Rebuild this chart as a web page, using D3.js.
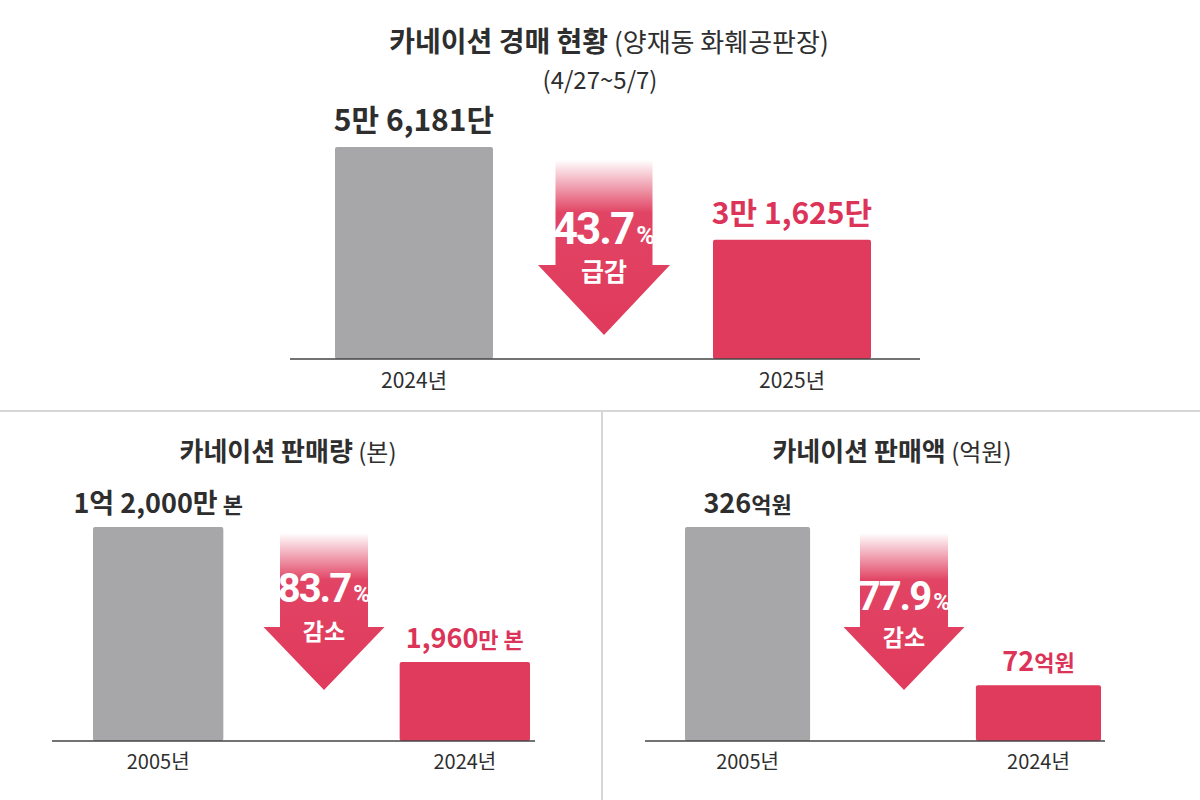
<!DOCTYPE html>
<html>
<head>
<meta charset="utf-8">
<script src="https://cdn.jsdelivr.net/npm/d3@7"></script>
<style>
  body { margin: 0; background: #fff; }
  svg text { font-family: "Noto Sans CJK KR", "Noto Sans", sans-serif; }
</style>
</head>
<body>
<div id="chart"></div>
<script>
// width and height
var w = 1200;
var h = 800;

var red = "#e03a5c";
var redText = "#dc3358";
var gray = "#a7a7a9";
var dark = "#2e2e2e";

// auction data (top panel)
var auctionYears = ["2024년", "2025년"];
var auctionValues = [56181, 31625];
var auctionLabels = [["5만 6,181", "단"], ["3만 1,625", "단"]];
var auctionDrop = ["43.7", "급감"];

// sales volume data (bottom left)
var volumeYears = ["2005년", "2024년"];
var volumeValues = [12000, 1960]; // 만 본
var volumeLabels = [["1억 2,000만", " 본"], ["1,960", "만 본"]];
var volumeDrop = ["83.7", "감소"];

// sales amount data (bottom right)
var amountYears = ["2005년", "2024년"];
var amountValues = [326, 72]; // 억원
var amountLabels = [["326", "억원"], ["72", "억원"]];
var amountDrop = ["77.9", "감소"];

var svg = d3.select("#chart").append("svg")
  .attr("width", w)
  .attr("height", h);

svg.append("rect").attr("width", w).attr("height", h).attr("fill", "#fff");

var defs = svg.append("defs");
var grad = defs.append("linearGradient")
  .attr("id", "arrowFade")
  .attr("x1", 0).attr("y1", 0).attr("x2", 0).attr("y2", 1);
grad.append("stop").attr("offset", "0%").attr("stop-color", red).attr("stop-opacity", 0);
grad.append("stop").attr("offset", "30%").attr("stop-color", red).attr("stop-opacity", 0.95);
grad.append("stop").attr("offset", "100%").attr("stop-color", red).attr("stop-opacity", 1);

// panel dividers
svg.append("line")
  .attr("x1", 0).attr("x2", w).attr("y1", 411).attr("y2", 411)
  .attr("stroke", "#d6d6d6").attr("stroke-width", 2);
svg.append("line")
  .attr("x1", 602).attr("x2", 602).attr("y1", 411).attr("y2", h)
  .attr("stroke", "#d6d6d6").attr("stroke-width", 2);

// draws one bar panel
function drawPanel(opt) {
  var g = svg.append("g");

  var xScale = d3.scaleBand()
    .domain(opt.years)
    .range(opt.bandRange)
    .paddingInner(opt.padInner)
    .paddingOuter(0);

  var yScale = d3.scalePow()
    .exponent(opt.exponent)
    .domain([0, d3.max(opt.values)])
    .range([opt.baseY, opt.topY]);

  var data = opt.years.map(function(y, i) {
    return { year: y, value: opt.values[i], label: opt.labels[i], i: i };
  });

  g.selectAll(".bar")
    .data(data)
    .enter()
    .append("rect")
    .attr("class", "bar")
    .attr("x", function(d) { return xScale(d.year); })
    .attr("y", function(d) { return yScale(d.value); })
    .attr("width", xScale.bandwidth())
    .attr("height", function(d) { return opt.baseY - yScale(d.value); })
    .attr("rx", 2)
    .attr("fill", function(d) { return d.i === 0 ? gray : red; });

  // value labels
  var lbl = g.selectAll(".bar-label")
    .data(data)
    .enter()
    .append("text")
    .attr("class", "bar-label")
    .attr("x", function(d) { return xScale(d.year) + xScale.bandwidth() / 2; })
    .attr("y", function(d) { return yScale(d.value) - opt.labelGap; })
    .attr("text-anchor", "middle")
    .attr("font-weight", 700)
    .attr("fill", function(d) { return d.i === 0 ? dark : redText; });
  lbl.append("tspan")
    .attr("font-size", opt.labelSize + "px")
    .text(function(d) { return d.label[0]; });
  lbl.append("tspan")
    .attr("font-size", opt.unitSize + "px")
    .text(function(d) { return d.label[1]; });

  // x axis
  var xAxis = d3.axisBottom(xScale).tickSize(0).tickPadding(opt.tickPad);
  var ax = g.append("g")
    .attr("transform", "translate(0," + opt.baseY + ")")
    .call(xAxis);
  ax.select(".domain").remove();
  ax.selectAll("text")
    .attr("font-size", opt.tickSize + "px")
    .attr("fill", dark)
    .style("font-family", "'Noto Sans CJK KR', sans-serif");

  g.append("line")
    .attr("x1", opt.lineRange[0]).attr("x2", opt.lineRange[1])
    .attr("y1", opt.baseY).attr("y2", opt.baseY)
    .attr("stroke", "#444").attr("stroke-width", 1.5);

  // down arrow
  var a = opt.arrow;
  var pts = [
    [a.cx - a.shaft / 2, a.top],
    [a.cx + a.shaft / 2, a.top],
    [a.cx + a.shaft / 2, a.neck],
    [a.cx + a.head / 2, a.neck],
    [a.cx, a.tip],
    [a.cx - a.head / 2, a.neck],
    [a.cx - a.shaft / 2, a.neck]
  ];
  g.append("path")
    .attr("d", d3.line()(pts) + "Z")
    .attr("fill", "url(#arrowFade)");

  var pct = g.append("text")
    .attr("x", a.cx)
    .attr("y", a.pctY)
    .attr("text-anchor", "middle")
    .attr("fill", "#fff")
    .attr("font-weight", 700)
    .style("font-family", "Roboto, sans-serif");
  pct.append("tspan").attr("font-size", a.pctSize + "px").attr("letter-spacing", "-2px").text(opt.drop[0]);
  pct.append("tspan").attr("font-size", (a.pctSize * 0.58) + "px").attr("dx", 3).text("%");

  g.append("text")
    .attr("x", a.cx)
    .attr("y", a.wordY)
    .attr("text-anchor", "middle")
    .attr("fill", "#fff")
    .attr("font-weight", 700)
    .attr("font-size", a.wordSize + "px")
    .text(opt.drop[1]);

  // title
  var t = g.append("text")
    .attr("x", opt.titleX)
    .attr("y", opt.titleY)
    .attr("text-anchor", "middle")
    .attr("fill", dark);
  t.append("tspan").attr("font-weight", 700).attr("font-size", opt.titleSize + "px").text(opt.title[0]);
  t.append("tspan").attr("font-weight", 400).attr("font-size", (opt.titleSize - 2) + "px").text(" " + opt.title[1]);
}

// top panel
drawPanel({
  years: auctionYears, values: auctionValues, labels: auctionLabels, drop: auctionDrop,
  bandRange: [335, 871], padInner: 0.582, exponent: 1,
  baseY: 359, topY: 147, lineRange: [290, 920],
  labelGap: 16, labelSize: 30, unitSize: 30, tickSize: 21, tickPad: 14,
  arrow: { cx: 604, shaft: 97, head: 132, top: 160, neck: 265, tip: 335,
           pctY: 244, pctSize: 44, wordY: 281, wordSize: 25 },
  title: ["카네이션 경매 현황", "(양재동 화훼공판장)"],
  titleX: 609, titleY: 52, titleSize: 28
});

svg.append("text")
  .attr("x", 600).attr("y", 89)
  .attr("text-anchor", "middle")
  .attr("font-size", "24px")
  .attr("fill", dark)
  .text("(4/27~5/7)");

// bottom left panel
drawPanel({
  years: volumeYears, values: volumeValues, labels: volumeLabels, drop: volumeDrop,
  bandRange: [93, 530], padInner: 0.575, exponent: 0.55,
  baseY: 741, topY: 527, lineRange: [52, 535],
  labelGap: 14, labelSize: 27, unitSize: 22, tickSize: 20, tickPad: 14,
  arrow: { cx: 324, shaft: 88, head: 121, top: 533, neck: 627, tip: 690,
           pctY: 602, pctSize: 40, wordY: 640, wordSize: 23 },
  title: ["카네이션 판매량", "(본)"],
  titleX: 288, titleY: 461, titleSize: 26
});

// bottom right panel
drawPanel({
  years: amountYears, values: amountValues, labels: amountLabels, drop: amountDrop,
  bandRange: [685, 1101], padInner: 0.57, exponent: 0.89,
  baseY: 741, topY: 527, lineRange: [645, 1105],
  labelGap: 14, labelSize: 27, unitSize: 22, tickSize: 20, tickPad: 14,
  arrow: { cx: 904, shaft: 88, head: 121, top: 533, neck: 627, tip: 690,
           pctY: 610, pctSize: 40, wordY: 646, wordSize: 23 },
  title: ["카네이션 판매액", "(억원)"],
  titleX: 892, titleY: 461, titleSize: 26
});
</script>
</body>
</html>
